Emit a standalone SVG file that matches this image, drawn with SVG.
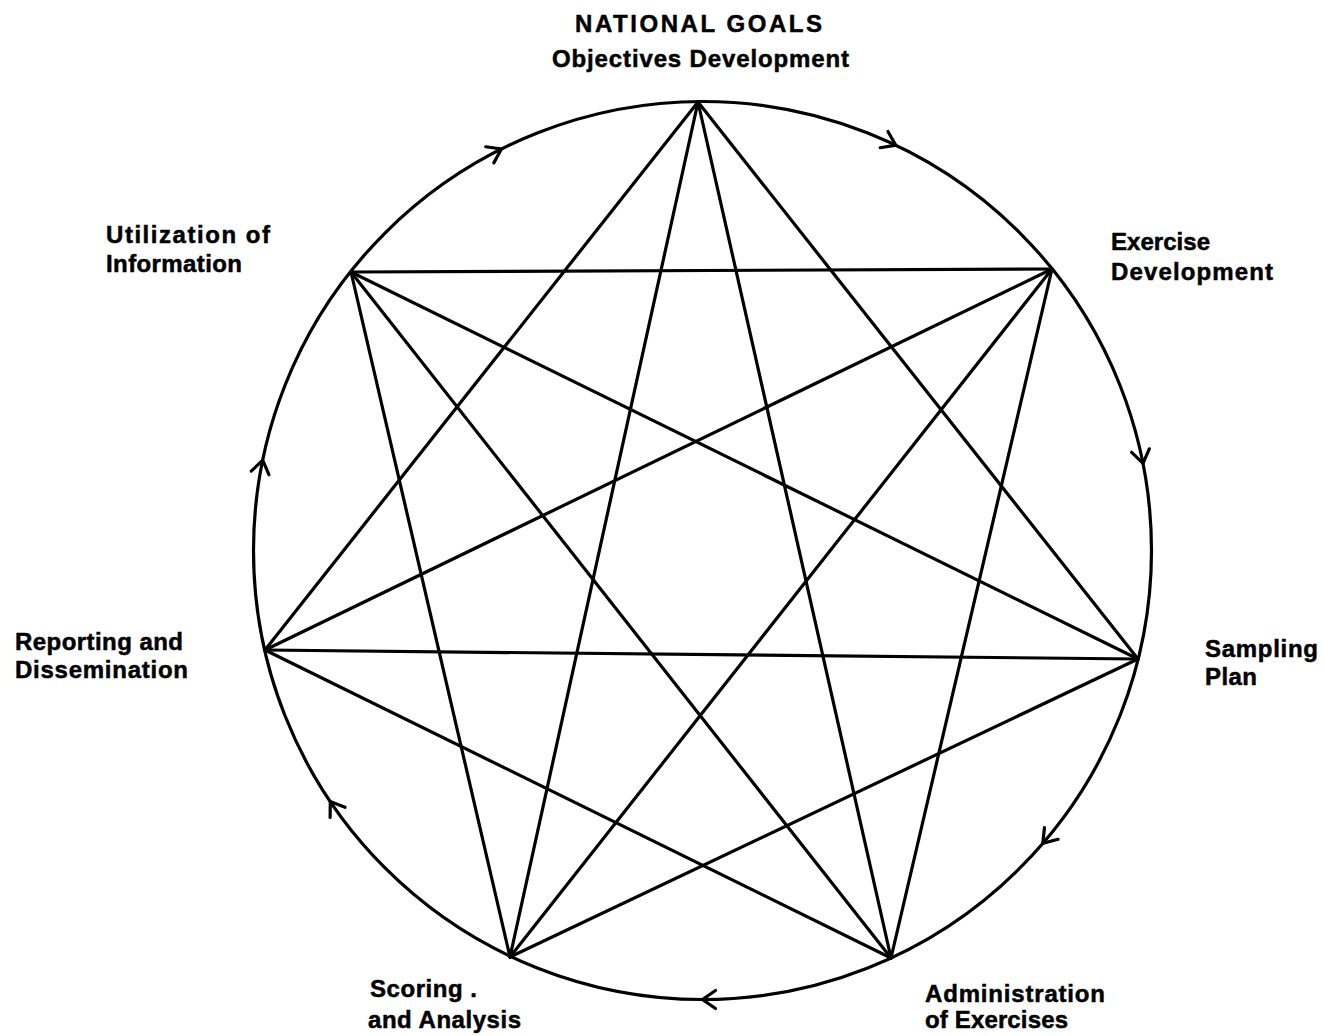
<svg xmlns="http://www.w3.org/2000/svg" xmlns:xlink="http://www.w3.org/1999/xlink" width="1324" height="1036" viewBox="0 0 1324 1036">
<style>
.lbl{font-family:"Liberation Sans",Arial,sans-serif;font-weight:bold;font-size:24px;fill:#000;stroke:#000;stroke-width:0.5}
.ln{stroke:#000;stroke-width:3.2;fill:none;stroke-linecap:round}
.chev{stroke:#000;stroke-width:3.2;fill:none;stroke-linecap:round;stroke-linejoin:miter}
</style>
<defs>
<path id="chev" class="chev" d="M -13 -9 L 0 0 L -13 9"/>
</defs>
<rect width="1324" height="1036" fill="#fff"/>
<g id="connectors">
<circle class="ln" cx="702.5" cy="550.5" r="449"/>
<line class="ln" x1="698" y1="102" x2="1138" y2="659"/>
<line class="ln" x1="1052" y1="269" x2="891" y2="958"/>
<line class="ln" x1="1138" y1="659" x2="510" y2="957"/>
<line class="ln" x1="891" y1="958" x2="265" y2="650"/>
<line class="ln" x1="510" y1="957" x2="351" y2="272"/>
<line class="ln" x1="265" y1="650" x2="698" y2="102"/>
<line class="ln" x1="351" y1="272" x2="1052" y2="269"/>
<line class="ln" x1="698" y1="102" x2="891" y2="958"/>
<line class="ln" x1="1052" y1="269" x2="510" y2="957"/>
<line class="ln" x1="1138" y1="659" x2="265" y2="650"/>
<line class="ln" x1="891" y1="958" x2="351" y2="272"/>
<line class="ln" x1="510" y1="957" x2="698" y2="102"/>
<line class="ln" x1="265" y1="650" x2="1052" y2="269"/>
<line class="ln" x1="351" y1="272" x2="1138" y2="659"/>
<use xlink:href="#chev" transform="translate(501.4,149) rotate(-26.6)"/>
<use xlink:href="#chev" transform="translate(895.8,145.2) rotate(25.5)"/>
<use xlink:href="#chev" transform="translate(1143,463.3) rotate(78.8)"/>
<use xlink:href="#chev" transform="translate(1042.8,843.3) rotate(130.7)"/>
<use xlink:href="#chev" transform="translate(702.5,999.5) rotate(180)"/>
<use xlink:href="#chev" transform="translate(330.3,801.6) rotate(236)"/>
<use xlink:href="#chev" transform="translate(262.7,460.2) rotate(281.6)"/>
</g>
<g id="node-objectives">
<text class="lbl" x="575" y="32" textLength="247" lengthAdjust="spacing">NATIONAL GOALS</text>
<text class="lbl" x="552" y="67" textLength="297" lengthAdjust="spacing">Objectives Development</text>
</g>
<g id="node-exercise">
<text class="lbl" x="1111" y="250" textLength="99" lengthAdjust="spacing">Exercise</text>
<text class="lbl" x="1111" y="280" textLength="162" lengthAdjust="spacing">Development</text>
</g>
<g id="node-sampling">
<text class="lbl" x="1205" y="657" textLength="113" lengthAdjust="spacing">Sampling</text>
<text class="lbl" x="1205" y="685" textLength="52" lengthAdjust="spacing">Plan</text>
</g>
<g id="node-administration">
<text class="lbl" x="925" y="1002" textLength="180" lengthAdjust="spacing">Administration</text>
<text class="lbl" x="925" y="1028" textLength="143" lengthAdjust="spacing">of Exercises</text>
</g>
<g id="node-scoring">
<text class="lbl" x="370" y="997" textLength="107" lengthAdjust="spacing">Scoring .</text>
<text class="lbl" x="368" y="1028" textLength="153" lengthAdjust="spacing">and Analysis</text>
</g>
<g id="node-reporting">
<text class="lbl" x="15" y="650" textLength="168" lengthAdjust="spacing">Reporting and</text>
<text class="lbl" x="15" y="678" textLength="173" lengthAdjust="spacing">Dissemination</text>
</g>
<g id="node-utilization">
<text class="lbl" x="106" y="243" textLength="164" lengthAdjust="spacing">Utilization of</text>
<text class="lbl" x="106" y="272" textLength="136" lengthAdjust="spacing">Information</text>
</g>
</svg>
